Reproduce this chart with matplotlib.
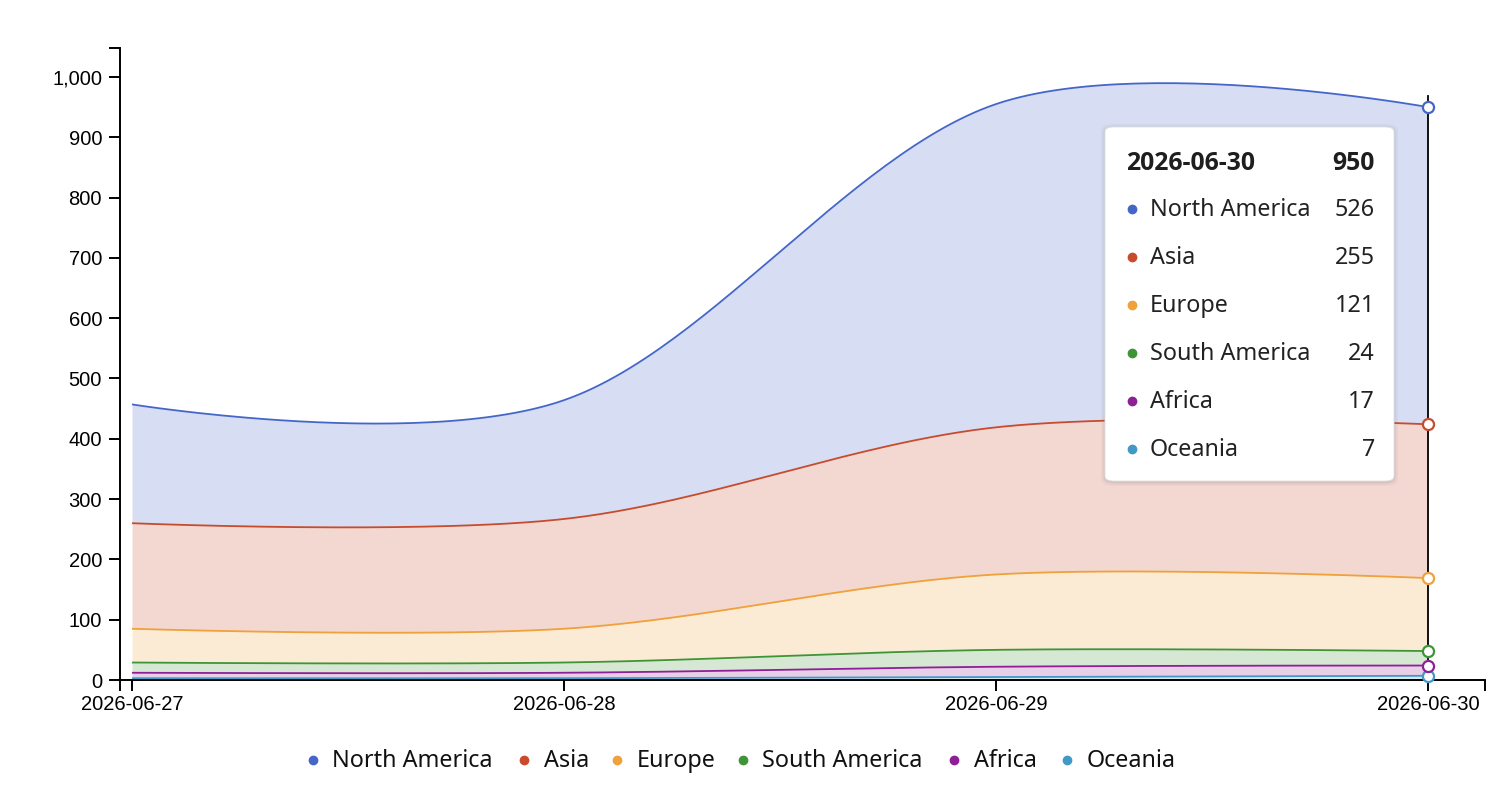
import matplotlib
matplotlib.use('Agg')
import matplotlib.pyplot as plt
from matplotlib.patches import FancyBboxPatch
from matplotlib.lines import Line2D
import numpy as np

# data (stacked areas, values per day)
dates = ['2026-06-27', '2026-06-28', '2026-06-29', '2026-06-30']
regions = ['North America', 'Asia', 'Europe', 'South America', 'Africa', 'Oceania']
north_america = [197, 197, 536, 526]
asia = [175, 182, 244, 255]
europe = [56, 56, 125, 121]
south_america = [17, 17, 28, 24]
africa = [9, 9, 17, 17]
oceania = [3, 3, 5, 7]
colors = ['#4466c8', '#c84b2d', '#f0a13a', '#3e9535', '#8e1f96', '#4199c6']

# stacking order: bottom -> top
stack_order = [oceania, africa, south_america, europe, asia, north_america]
stack_colors = colors[::-1]

W, H = 1508, 798


def cardinal(xs, ys, n=60):
    # d3 curveCardinal (tension 0), zero tangents at the ends
    xs = np.asarray(xs, float)
    ys = np.asarray(ys, float)
    k = 1.0 / 6.0
    out_x, out_y = [], []
    t = np.linspace(0, 1, n)
    for i in range(len(xs) - 1):
        p0x, p1x = xs[i], xs[i + 1]
        p0y, p1y = ys[i], ys[i + 1]
        if i == 0:
            c1x, c1y = p0x, p0y
        else:
            c1x = p0x + k * (xs[i + 1] - xs[i - 1])
            c1y = p0y + k * (ys[i + 1] - ys[i - 1])
        if i == len(xs) - 2:
            c2x, c2y = p1x, p1y
        else:
            c2x = p1x - k * (xs[i + 2] - xs[i])
            c2y = p1y - k * (ys[i + 2] - ys[i])
        bx = (1 - t) ** 3 * p0x + 3 * (1 - t) ** 2 * t * c1x + 3 * (1 - t) * t ** 2 * c2x + t ** 3 * p1x
        by = (1 - t) ** 3 * p0y + 3 * (1 - t) ** 2 * t * c1y + 3 * (1 - t) * t ** 2 * c2y + t ** 3 * p1y
        if i > 0:
            bx, by = bx[1:], by[1:]
        out_x.append(bx)
        out_y.append(by)
    return np.concatenate(out_x), np.concatenate(out_y)


def fx(px):
    return px / W


def fy(py):
    return 1 - py / H


fig = plt.figure(figsize=(W / 100, H / 100), dpi=100)
ax = fig.add_axes([fx(120), fy(680), fx(1485) - fx(120), fy(48) - fy(680)])

x = np.arange(len(dates))
ax.set_xlim(-12 / 432, (1485 - 132) / 432)
ax.set_ylim(0, 1048)

lower = np.zeros(len(dates))
cx, base = cardinal(x, lower)
tops = []
for vals, col in zip(stack_order, stack_colors):
    upper = lower + np.array(vals)
    _, cu = cardinal(x, upper)
    _, cl = cardinal(x, lower)
    ax.fill_between(cx, cl, cu, color=col, alpha=0.21, lw=0, zorder=2)
    ax.plot(cx, cu, color=col, lw=1.3, zorder=3, solid_capstyle='butt')
    tops.append(upper[-1])
    lower = upper

# hover crosshair + point markers
ax.plot([x[-1], x[-1]], [0, 968], color='black', lw=1.3, zorder=4, clip_on=False)
for top, col in zip(tops, stack_colors):
    ax.plot(x[-1], top, 'o', ms=8, mfc='white', mec=col, mew=1.6, zorder=5, clip_on=False)

# axes styling (d3-like)
for s in ['top', 'right']:
    ax.spines[s].set_visible(False)
for s in ['left', 'bottom']:
    ax.spines[s].set_linewidth(1.4)
    ax.spines[s].set_color('black')

ax.set_xticks(x)
ax.set_xticklabels(dates)
ax.set_yticks(np.arange(0, 1001, 100))
ax.set_yticklabels([f'{v:,}' for v in range(0, 1001, 100)])
ax.set_xticks([ax.get_xlim()[0], ax.get_xlim()[1]], minor=True)
ax.set_yticks([ax.get_ylim()[1]], minor=True)
ax.tick_params(which='both', length=7.9, width=1.4, color='black', labelsize=14.5,
               labelfontfamily='Liberation Sans')
ax.tick_params(axis='x', which='major', pad=3)
ax.tick_params(axis='y', which='major', pad=5)

# tooltip
for grow, a in [(4, 0.06), (2.5, 0.08), (1.2, 0.12)]:
    sh = FancyBboxPatch((fx(1105 - grow), fy(481 + grow + 1)), fx(289 + 2 * grow),
                        fy(127 - grow) - fy(481 + grow),
                        boxstyle='round,pad=0,rounding_size=0.008', transform=fig.transFigure,
                        fc='#808080', ec='none', alpha=a, zorder=9)
    fig.patches.append(sh)
box = FancyBboxPatch((fx(1105), fy(481)), fx(289), fy(127) - fy(481),
                     boxstyle='round,pad=0,rounding_size=0.006', transform=fig.transFigure,
                     fc='white', ec='#e2e2e2', lw=0.6, zorder=10)
fig.patches.append(box)

txt_font = 'Noto Sans'
txt_size = 16.8
fig.text(fx(1126), fy(170), dates[-1], fontsize=17.8, fontweight='bold', family='Open Sans',
         color='#1e1e1e', va='baseline', ha='left', zorder=11)
fig.text(fx(1375), fy(170), f'{int(tops[-1])}', fontsize=17.8, fontweight='bold',
         family='Open Sans', color='#1e1e1e', va='baseline', ha='right', zorder=11)
series_vals = [north_america, asia, europe, south_america, africa, oceania]
for i, (name, vals, col) in enumerate(zip(regions, series_vals, colors)):
    yy = 216 + i * 48
    fig.lines.append(Line2D([fx(1132)], [fy(yy - 7)], marker='o', ms=6, color=col, lw=0,
                            transform=fig.transFigure, zorder=11))
    fig.text(fx(1150), fy(yy), name, fontsize=txt_size, family=txt_font, color='#222222',
             va='baseline', ha='left', zorder=11)
    fig.text(fx(1375), fy(yy), f'{vals[-1]}', fontsize=txt_size, family=txt_font, color='#222222',
             va='baseline', ha='right', zorder=11)

# legend (bottom, manual placement)
legend_dot_x = [313, 524, 617, 743, 954, 1067]
for name, col, dx in zip(regions, colors, legend_dot_x):
    fig.lines.append(Line2D([fx(dx)], [fy(760)], marker='o', ms=6, color=col, lw=0,
                            transform=fig.transFigure))
    fig.text(fx(dx + 19.5), fy(767), name, fontsize=txt_size, family=txt_font, color='#111111',
             va='baseline', ha='left')

fig.savefig('out.png', dpi=100)
